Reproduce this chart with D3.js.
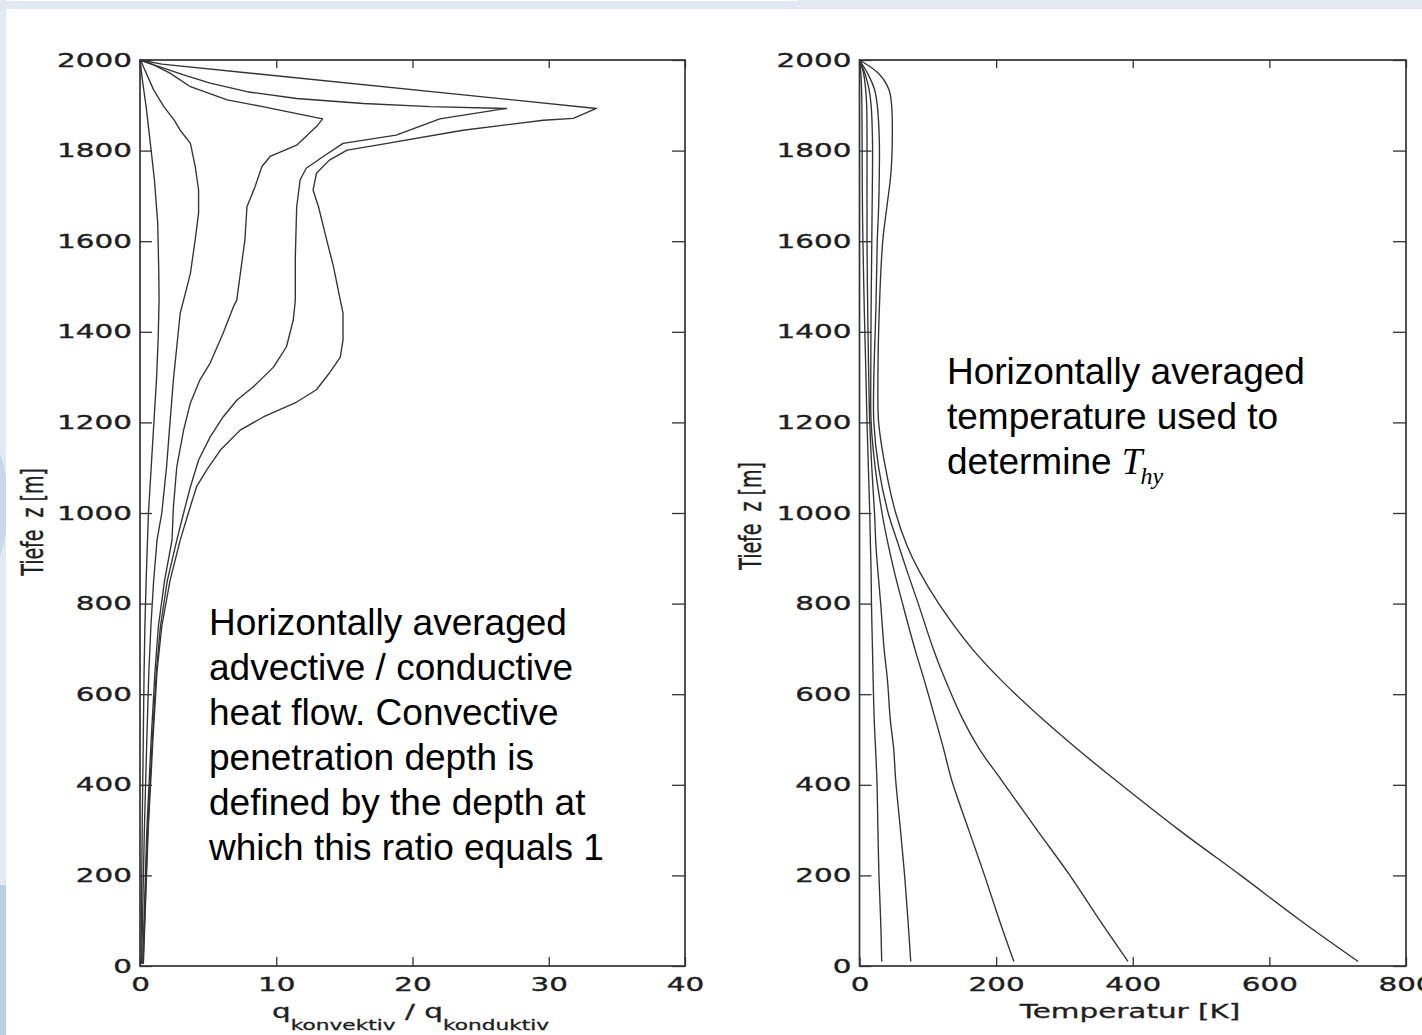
<!DOCTYPE html>
<html>
<head>
<meta charset="utf-8">
<script src="https://cdn.jsdelivr.net/npm/d3@7"></script>
<style>
  html, body { margin: 0; padding: 0; background: #fff; }
  svg { display: block; }
</style>
</head>
<body>
<svg id="fig" width="1422" height="1035"></svg>
<script>
// ---- axis ticks ----
const depthTicks = [0, 200, 400, 600, 800, 1000, 1200, 1400, 1600, 1800, 2000];
const ratioTicks = [0, 10, 20, 30, 40];
const tempTicks  = [0, 200, 400, 600, 800];

// ---- advective / conductive heat-flow ratio profiles (depth z [m], ratio) ----
const zA = [2000, 1950, 1897, 1800, 1735, 1640, 1530, 1470, 1390, 1300, 1220, 1100, 1000, 940, 850, 750, 650, 500, 300, 5];
const qA = [0, 0.2, 0.45, 0.82, 1.06, 1.3, 1.38, 1.4, 1.34, 1.22, 1.06, 0.82, 0.62, 0.55, 0.45, 0.36, 0.3, 0.24, 0.16, 0.07];

const zB = [2000, 1985, 1934, 1897, 1868, 1845, 1816, 1765, 1713, 1662, 1603, 1529, 1470, 1441, 1367, 1294, 1199, 1102, 1000, 940, 850, 750, 650, 500, 300, 5];
const qB = [0.05, 0.25, 1.0, 1.75, 2.5, 2.95, 3.7, 4.05, 4.3, 4.3, 4.05, 3.7, 3.2, 2.95, 2.7, 2.45, 2.2, 1.95, 1.6, 1.25, 1.0, 0.8, 0.65, 0.5, 0.32, 0.12];

const zC = [2000, 1989, 1971, 1941, 1912, 1897, 1870, 1853, 1812, 1787, 1765, 1721, 1676, 1603, 1470, 1455, 1397, 1331, 1294, 1243, 1183, 1102, 1013, 940, 850, 750, 650, 500, 300, 5];
const qC = [0, 1.0, 2.2, 3.7, 6.4, 9.0, 13.4, 12.95, 11.5, 9.55, 8.95, 8.45, 7.85, 7.7, 7.1, 6.85, 6.1, 5.15, 4.4, 3.7, 3.2, 2.7, 2.45, 2.35, 1.8, 1.35, 1.1, 0.82, 0.5, 0.2];

const zD = [2000, 1991, 1967, 1949, 1930, 1915, 1904, 1897, 1893, 1890, 1870, 1834, 1816, 1787, 1761, 1735, 1676, 1566, 1470, 1426, 1367, 1322, 1278, 1249, 1212, 1168, 1117, 1058, 1000, 940, 850, 750, 650, 500, 300, 5];
const qD = [0, 0.86, 3.2, 5.15, 7.85, 11.5, 16.4, 21.3, 26.9, 26.2, 22.0, 18.8, 14.9, 13.45, 12.2, 11.75, 11.5, 11.4, 11.4, 11.25, 10.75, 9.8, 8.3, 7.1, 6.1, 5.15, 4.3, 3.7, 3.2, 2.7, 2.0, 1.5, 1.2, 0.9, 0.57, 0.22];

const zE = [2000, 1991, 1893, 1871, 1867, 1845, 1812, 1801, 1779, 1750, 1713, 1676, 1603, 1544, 1470, 1441, 1382, 1344, 1309, 1272, 1245, 1212, 1183, 1139, 1095, 1058, 1000, 940, 850, 750, 650, 500, 300, 5];
const qE = [0, 1.6, 33.5, 31.8, 29.6, 23.7, 17.4, 15.2, 13.9, 12.95, 12.7, 13.1, 13.7, 14.2, 14.7, 14.9, 14.9, 14.7, 13.9, 12.95, 11.5, 9.05, 7.35, 5.9, 4.9, 4.15, 3.55, 2.95, 2.2, 1.6, 1.25, 0.95, 0.6, 0.25];

// ---- horizontally averaged temperature profiles (common depth grid, T in K) ----
const zT = [2000, 1970, 1935, 1900, 1825, 1750, 1675, 1600, 1450, 1300, 1200, 1100, 1000, 930, 870, 800, 700, 630, 545, 480, 410, 300, 200, 100, 10];
const T1 = [0, 2, 3, 3.5, 3.8, 4, 4.3, 5, 7, 9.5, 11, 13, 15, 16, 17, 17.5, 19, 20, 21.5, 23.5, 25.5, 27, 28.5, 31, 32.5];
const T2 = [0, 6, 9, 10.5, 11, 11, 11, 11, 12, 13.5, 15, 18, 22, 24, 27, 31, 36, 41, 45, 50, 53, 60, 66, 71, 75];
const T3 = [0, 8, 14, 17, 19, 19, 18.5, 18, 17, 16.5, 17, 23, 33, 42, 51, 63, 81, 95, 111, 123, 135, 160, 183, 205, 226];
const T4 = [0, 12, 22, 26, 29, 29, 28, 26, 24, 21, 21, 28, 42, 57, 70, 86, 108, 126, 151, 175, 208, 260, 308, 352, 393];
const T5 = [0, 28, 43, 47, 48, 46, 40, 34, 29, 27, 28, 38, 53, 69, 88, 116, 165, 208, 268, 318, 375, 468, 558, 646, 730];

const ratioSeries = [[zA, qA], [zB, qB], [zC, qC], [zD, qD], [zE, qE]];
const tempSeries  = [T1, T2, T3, T4, T5].map(t => [zT, t]);

// ---- drawing ----
const svg = d3.select("#fig");
const AXIS_FONT = "'DejaVu Sans', Verdana, sans-serif";
const SX = 1.55;            // horizontal stretch of the plot lettering
const INK = "#1e1e1e";
const TOP = 60, BOTTOM = 966;

// page backdrop: pale slide border along the top and left edge
const deco = svg.append("g");
deco.append("rect").attr("x", 0).attr("y", 0).attr("width", 1422).attr("height", 9).attr("fill", "#e1e9f2");
deco.append("rect").attr("x", 0).attr("y", 0).attr("width", 797).attr("height", 1).attr("fill", "#ffffff");
deco.append("rect").attr("x", 0).attr("y", 0).attr("width", 6).attr("height", 1035).attr("fill", "#e1e9f2");
deco.append("clipPath").attr("id", "strip").append("rect").attr("x", 0).attr("y", 0).attr("width", 6).attr("height", 1035);
deco.append("ellipse").attr("cx", -8).attr("cy", 505).attr("rx", 16).attr("ry", 58)
  .attr("fill", "#c9d8e9").attr("clip-path", "url(#strip)");
deco.append("rect").attr("x", 0).attr("y", 885).attr("width", 6).attr("height", 150)
  .attr("fill", "#bccfe3");

function stretch(sel) {
  sel.each(function () {
    const t = d3.select(this);
    const x = +t.attr("x") || 0, y = +t.attr("y") || 0;
    t.attr("x", 0).attr("y", 0).attr("transform", `translate(${x},${y}) scale(${SX},1)`);
  });
}

function panel(opt) {
  const x = d3.scaleLinear().domain(opt.xDomain).range([opt.left, opt.right]);
  const y = d3.scaleLinear().domain([0, 2000]).range([BOTTOM, TOP]);
  const g = svg.append("g");

  // curves
  const line = d3.line().x(d => x(d[1])).y(d => y(d[0])).curve(opt.curve);
  opt.series.forEach(([zs, vs]) => {
    g.append("path")
      .datum(zs.map((z, i) => [z, vs[i]]))
      .attr("d", line)
      .attr("fill", "none")
      .attr("stroke", "#333")
      .attr("stroke-width", 1.35)
      .attr("stroke-linejoin", "round");
  });

  // axes with inward ticks on all four sides
  const axes = [
    { ax: d3.axisLeft(y).tickValues(depthTicks).tickSize(-12).tickPadding(8).tickFormat(d3.format("d")), tr: `translate(${opt.left},0)`, lab: true },
    { ax: d3.axisRight(y).tickValues(depthTicks).tickSize(-13).tickFormat(""), tr: `translate(${opt.right},0)` },
    { ax: d3.axisBottom(x).tickValues(opt.xTicks).tickSize(-9).tickPadding(11).tickFormat(d3.format("d")), tr: `translate(0,${BOTTOM})`, lab: true },
    { ax: d3.axisTop(x).tickValues(opt.xTicks).tickSize(-8).tickFormat(""), tr: `translate(0,${TOP})` }
  ];
  axes.forEach(a => {
    const ag = g.append("g").attr("transform", a.tr).call(a.ax.tickSizeOuter(0));
    ag.select(".domain").remove();
    ag.selectAll(".tick line").attr("stroke", "#333").attr("stroke-width", 1.3);
    ag.attr("font-family", AXIS_FONT).attr("font-size", 19);
    ag.selectAll(".tick text").attr("fill", INK)
      .attr("stroke", INK).attr("stroke-width", 0.35);
    if (a.lab) stretch(ag.selectAll(".tick text"));
  });

  // frame
  g.append("rect")
    .attr("x", opt.left).attr("y", TOP)
    .attr("width", opt.right - opt.left).attr("height", BOTTOM - TOP)
    .attr("fill", "none").attr("stroke", "#333").attr("stroke-width", 1.7);

  // depth axis title
  g.append("text")
    .attr("transform", `translate(${opt.yTitleX},${opt.yTitleY}) scale(${SX},1) rotate(-90)`)
    .attr("text-anchor", "middle")
    .attr("dy", "0.35em")
    .attr("font-family", AXIS_FONT).attr("font-size", 19)
    .attr("fill", INK).attr("stroke", INK).attr("stroke-width", 0.3)
    .style("white-space", "pre")
    .text("Tiefe  z [m]");

  return { g, x, y };
}

// left panel: heat-flow ratio
const L = panel({
  left: 140, right: 685, xDomain: [0, 40], xTicks: ratioTicks,
  series: ratioSeries, curve: d3.curveLinear,
  yTitleX: 33, yTitleY: 522
});
const lt = L.g.append("text")
  .attr("transform", `translate(272,1018) scale(${SX},1)`)
  .attr("font-family", AXIS_FONT).attr("font-size", 19).attr("fill", INK)
  .attr("stroke", INK).attr("stroke-width", 0.3)
  .style("white-space", "pre");
lt.append("tspan").text("q");
lt.append("tspan").attr("font-size", 14).attr("dy", 12).text("konvektiv");
lt.append("tspan").attr("dy", -12).text(" / q");
lt.append("tspan").attr("font-size", 14).attr("dy", 12).text("konduktiv");

// right panel: temperature
const R = panel({
  left: 859.5, right: 1406, xDomain: [0, 800], xTicks: tempTicks,
  series: tempSeries, curve: d3.curveCatmullRom.alpha(0.5),
  yTitleX: 751, yTitleY: 516
});
R.g.append("text")
  .attr("transform", `translate(1130,1018) scale(${SX},1)`)
  .attr("text-anchor", "middle")
  .attr("font-family", AXIS_FONT).attr("font-size", 19).attr("fill", INK)
  .attr("stroke", INK).attr("stroke-width", 0.3)
  .text("Temperatur [K]");

// annotations
const NOTE_FONT = "'Liberation Sans', Arial, Helvetica, sans-serif";
const leftNote = [
  "Horizontally averaged",
  "advective / conductive",
  "heat flow. Convective",
  "penetration depth is",
  "defined by the depth at",
  "which this ratio equals 1"
];
svg.append("g").selectAll("text").data(leftNote).join("text")
  .attr("x", 209).attr("y", (d, i) => 635 + i * 44.9)
  .attr("font-family", NOTE_FONT).attr("font-size", 37).attr("fill", "#000")
  .text(d => d);

const rightNote = ["Horizontally averaged", "temperature used to"];
const rn = svg.append("g");
rn.selectAll("text").data(rightNote).join("text")
  .attr("x", 947).attr("y", (d, i) => 384 + i * 45)
  .attr("font-family", NOTE_FONT).attr("font-size", 37).attr("fill", "#000")
  .text(d => d);
const det = rn.append("text")
  .attr("x", 947).attr("y", 474)
  .attr("font-family", NOTE_FONT).attr("font-size", 37).attr("fill", "#000")
  .style("white-space", "pre");
det.append("tspan").text("determine ");
det.append("tspan").attr("font-family", "'Liberation Serif', 'Times New Roman', serif")
  .attr("font-style", "italic").text("T");
det.append("tspan").attr("font-family", "'Liberation Serif', 'Times New Roman', serif")
  .attr("font-style", "italic").attr("font-size", 24).attr("dy", 10).attr("dx", -2).text("hy");
</script>
</body>
</html>
